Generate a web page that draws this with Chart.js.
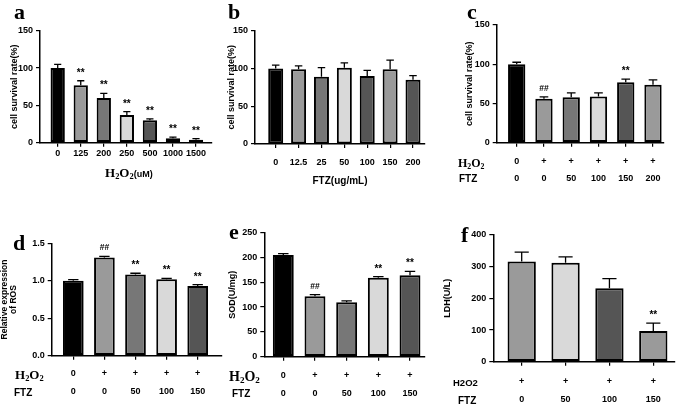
<!DOCTYPE html>
<html>
<head>
<meta charset="utf-8">
<script src="https://cdn.jsdelivr.net/npm/chart.js@4/dist/chart.umd.min.js"></script>
<style>
  body { margin: 0; background: #fff; width: 685px; height: 407px; position: relative; overflow: hidden; }
  canvas { position: absolute; }
  .t { position: absolute; white-space: nowrap; line-height: 1; color: #000; }
  .t sub { line-height: 0; vertical-align: -0.25em; font-size: 0.65em; }
</style>
</head>
<body>
<script>
// ---- data ----
// a: H2O2 dose response
const doseA = ['0', '125', '200', '250', '500', '1000', '1500'];
const survA = [100, 77, 60, 37, 30, 6, 4];
const errA = [105, 83, 66, 41.5, 32, 7.5, 5.5];
const sigA = ['', '**', '**', '**', '**', '**', '**'];

// b: FTZ alone
const doseB = ['0', '12.5', '25', '50', '100', '150', '200'];
const survB = [100, 99, 89, 101, 90, 99, 85];
const errB = [104.5, 103.5, 101, 107.5, 97.5, 111, 90.5];

// c: H2O2 + FTZ survival
const h2o2C = ['0', '+', '+', '+', '+', '+'];
const ftzC = ['0', '0', '50', '100', '150', '200'];
const survC = [100, 56, 58, 59, 77, 74];
const errC = [102.5, 58.5, 63.5, 63.5, 81, 80];
const sigC = ['', '##', '', '', '**', ''];

// d: ROS
const h2o2D = ['0', '+', '+', '+', '+'];
const ftzD = ['0', '0', '50', '100', '150'];
const rosD = [1.0, 1.31, 1.085, 1.02, 0.93];
const errD = [1.015, 1.325, 1.10, 1.033, 0.948];
const sigD = ['', '##', '**', '**', '**'];

// e: SOD
const h2o2E = ['0', '+', '+', '+', '+'];
const ftzE = ['0', '0', '50', '100', '150'];
const sodE = [205, 122, 110, 159, 164];
const errE = [208, 125, 112.5, 161.5, 172];
const sigE = ['', '##', '', '**', '**'];

// f: LDH
const h2o2F = ['+', '+', '+', '+'];
const ftzF = ['0', '50', '100', '150'];
const ldhF = [316, 312, 232, 97];
const errF = [346, 331, 262, 122];
const sigF = ['', '', '', '**'];

const SANS = "'Liberation Sans', Arial, sans-serif";
const SERIF = "'Liberation Serif', 'Times New Roman', serif";

// upper error bars + significance marks
const errorBars = {
  id: 'errorBars',
  afterDatasetsDraw(chart, args, opts) {
    const ctx = chart.ctx;
    const y = chart.scales.y;
    const meta = chart.getDatasetMeta(0);
    ctx.save();
    ctx.strokeStyle = '#000';
    ctx.fillStyle = '#000';
    ctx.lineWidth = 1.3;
    ctx.textAlign = 'center';
    ctx.textBaseline = 'alphabetic';
    meta.data.forEach((bar, i) => {
      const top = y.getPixelForValue(opts.err[i]);
      const half = bar.width * 0.25;
      ctx.beginPath();
      ctx.moveTo(bar.x, bar.y);
      ctx.lineTo(bar.x, top);
      ctx.moveTo(bar.x - half, top);
      ctx.lineTo(bar.x + half, top);
      ctx.stroke();
      const s = opts.sig ? opts.sig[i] : '';
      if (s) {
        const isHash = s === '##';
        ctx.font = 'bold ' + (isHash ? 8.5 : 10) + 'px ' + SANS;
        ctx.fillText(s, bar.x, top - (isHash ? 6 : 5));
      }
    });
    ctx.restore();
  }
};

function makePanel(cfg) {
  const [px, py, w, h] = cfg.box;
  const [L, T, R, B] = cfg.area;
  const n = cfg.values.length;
  const step = (cfg.cN - cfg.c0) / (n - 1);

  const canvas = document.createElement('canvas');
  canvas.width = w;
  canvas.height = h;
  canvas.style.left = px + 'px';
  canvas.style.top = py + 'px';
  document.body.appendChild(canvas);

  const axisLine = { display: true, color: '#000', width: 1.5 };
  const tickMarks = { display: true, drawOnChartArea: false, drawTicks: true, tickLength: 4, color: '#000', lineWidth: 1.2, offset: false };

  return new Chart(canvas, {
    type: 'bar',
    data: {
      datasets: [{
        data: cfg.values.map((v, i) => ({ x: i, y: v })),
        backgroundColor: cfg.colors,
        borderColor: '#000',
        borderWidth: 2,
        borderSkipped: false,
        categoryPercentage: 1,
        barPercentage: cfg.barPct
      }]
    },
    options: {
      responsive: false,
      animation: false,
      devicePixelRatio: 1,
      layout: { padding: { left: 0, top: T - py, right: px + w - R, bottom: 0 } },
      plugins: {
        legend: { display: false },
        tooltip: { enabled: false },
        errorBars: { err: cfg.err, sig: cfg.sig }
      },
      scales: {
        x: {
          type: 'linear',
          offset: false,
          min: -(cfg.c0 - L) / step,
          max: n - 1 + (R - cfg.cN) / step,
          afterBuildTicks: ax => { ax.ticks = cfg.values.map((_, i) => ({ value: i })); },
          afterFit: ax => { ax.height = py + h - B; ax.paddingLeft = 0; ax.paddingRight = 0; },
          border: axisLine,
          grid: tickMarks,
          ticks: {
            autoSkip: false,
            maxRotation: 0,
            padding: cfg.tickPad,
            color: '#000',
            font: { family: SANS, size: 9, weight: 'bold', lineHeight: cfg.tickLH || 1.2 },
            callback: v => cfg.xLabel(v)
          },
          title: cfg.xTitle ? {
            display: true,
            text: cfg.xTitle,
            color: '#000',
            font: { family: SANS, size: 10, weight: 'bold' },
            padding: { top: 0, bottom: cfg.xTitlePad }
          } : { display: false }
        },
        y: {
          min: 0,
          max: cfg.yMax,
          afterFit: ax => { ax.width = L - px; },
          border: axisLine,
          grid: tickMarks,
          ticks: {
            stepSize: cfg.yStep,
            padding: 3,
            color: '#000',
            font: { family: SANS, size: 9, weight: 'bold' },
            callback: cfg.yFmt || (v => v)
          },
          title: {
            display: true,
            text: cfg.yTitle,
            color: '#000',
            font: { family: SANS, size: cfg.yTitleSize || 9, weight: 'bold', lineHeight: cfg.yTitleLH || 1.2 },
            padding: { top: cfg.yTitlePad, bottom: 0 }
          }
        }
      }
    },
    plugins: [errorBars]
  });
}

const grays7 = ['#000', '#9a9a9a', '#777', '#d9d9d9', '#555', '#9a9a9a', '#777'];

makePanel({
  box: [0, 0, 222, 200], area: [40, 30.7, 212, 142.7], c0: 57.7, cN: 196,
  values: survA, err: errA, sig: sigA,
  colors: grays7, barPct: 0.62,
  xLabel: v => doseA[v], tickPad: 1.9,
  yMax: 150, yStep: 50, yTitle: 'cell survival rate(%)', yTitlePad: 9.6
});

makePanel({
  box: [222, 0, 233, 200], area: [255, 30.7, 425, 144], c0: 275.7, cN: 413,
  values: survB, err: errB, sig: null,
  colors: ['#000', '#9a9a9a', '#777', '#d9d9d9', '#555', '#9a9a9a', '#555'], barPct: 0.655,
  xLabel: v => doseB[v], tickPad: 9.3,
  xTitle: 'FTZ(ug/mL)', xTitlePad: 12.3,
  yMax: 150, yStep: 50, yTitle: 'cell survival rate(%)', yTitlePad: 4.6
});

makePanel({
  box: [455, 0, 230, 200], area: [496.7, 25, 664, 142.7], c0: 516.7, cN: 653,
  values: survC, err: errC, sig: sigC,
  colors: ['#000', '#9a9a9a', '#777', '#d9d9d9', '#555', '#9a9a9a'], barPct: 0.635,
  xLabel: v => [h2o2C[v], ftzC[v]], tickPad: 6.6, tickLH: '16.7px',
  yMax: 150, yStep: 50, yTitle: 'cell survival rate(%)', yTitlePad: 9.6
});

makePanel({
  box: [0, 200, 225, 207], area: [51.7, 243.3, 221.7, 355.7], c0: 73.3, cN: 197.7,
  values: rosD, err: errD, sig: sigD,
  colors: ['#000', '#9a9a9a', '#777', '#d9d9d9', '#555'], barPct: 0.665,
  xLabel: v => [h2o2D[v], ftzD[v]], tickPad: 4.4, tickLH: '18.4px',
  yMax: 1.5, yStep: 0.5, yFmt: v => v.toFixed(1),
  yTitle: ['Relative expression', 'of ROS'], yTitleSize: 8.5, yTitleLH: '8.4px', yTitlePad: 0.9
});

makePanel({
  box: [225, 200, 215, 207], area: [264.3, 232.7, 425, 356.7], c0: 283.3, cN: 410,
  values: sodE, err: errE, sig: sigE,
  colors: ['#000', '#9a9a9a', '#777', '#d9d9d9', '#555'], barPct: 0.66,
  xLabel: v => [h2o2E[v], ftzE[v]], tickPad: 6.2, tickLH: '17.6px',
  yMax: 250, yStep: 50, yTitle: 'SOD(U/mg)', yTitlePad: 2.6
});

makePanel({
  box: [440, 200, 245, 207], area: [493.3, 235, 675, 361.7], c0: 521.7, cN: 653.3,
  values: ldhF, err: errF, sig: sigF,
  colors: ['#9a9a9a', '#d9d9d9', '#555', '#9a9a9a'], barPct: 0.645,
  xLabel: v => [h2o2F[v], ftzF[v]], tickPad: 6.85, tickLH: '18.3px',
  yMax: 400, yStep: 100, yTitle: 'LDH(U/L)', yTitlePad: 2.6
});

// ---- free text: panel letters, row headers, axis title of a ----
function place(html, x, baseline, size, family, asc) {
  const d = document.createElement('div');
  d.className = 't';
  d.innerHTML = html;
  d.style.left = x + 'px';
  d.style.top = (baseline - asc * size) + 'px';
  d.style.font = 'bold ' + size + 'px ' + family;
  document.body.appendChild(d);
}
const letter = (s, x, base) => place(s, x, base, 22, SERIF, 0.8375);
letter('a', 14, 17);
letter('b', 228, 17);
letter('c', 467, 17);
letter('d', 13, 248);
letter('e', 229, 237);
letter('f', 461, 240);

const h2o2Html = 'H<sub>2</sub>O<sub>2</sub>';
place(h2o2Html + '<span style="font:bold 9px ' + SANS + '">(uM)</span>', 105, 175.7, 13, SERIF, 0.8375);

place(h2o2Html, 458, 165.7, 12, SERIF, 0.8375);
place('FTZ', 459, 181.9, 10, SANS, 0.8465);

place(h2o2Html, 15, 377.6, 13, SERIF, 0.8375);
place('FTZ', 14, 395.3, 10, SANS, 0.8465);

place(h2o2Html, 229, 380.3, 14, SERIF, 0.8375);
place('FTZ', 232, 396.9, 10, SANS, 0.8465);

place('H2O2', 453, 385.1, 9.5, SANS, 0.8465);
place('FTZ', 458, 403.6, 10, SANS, 0.8465);
</script>
</body>
</html>
